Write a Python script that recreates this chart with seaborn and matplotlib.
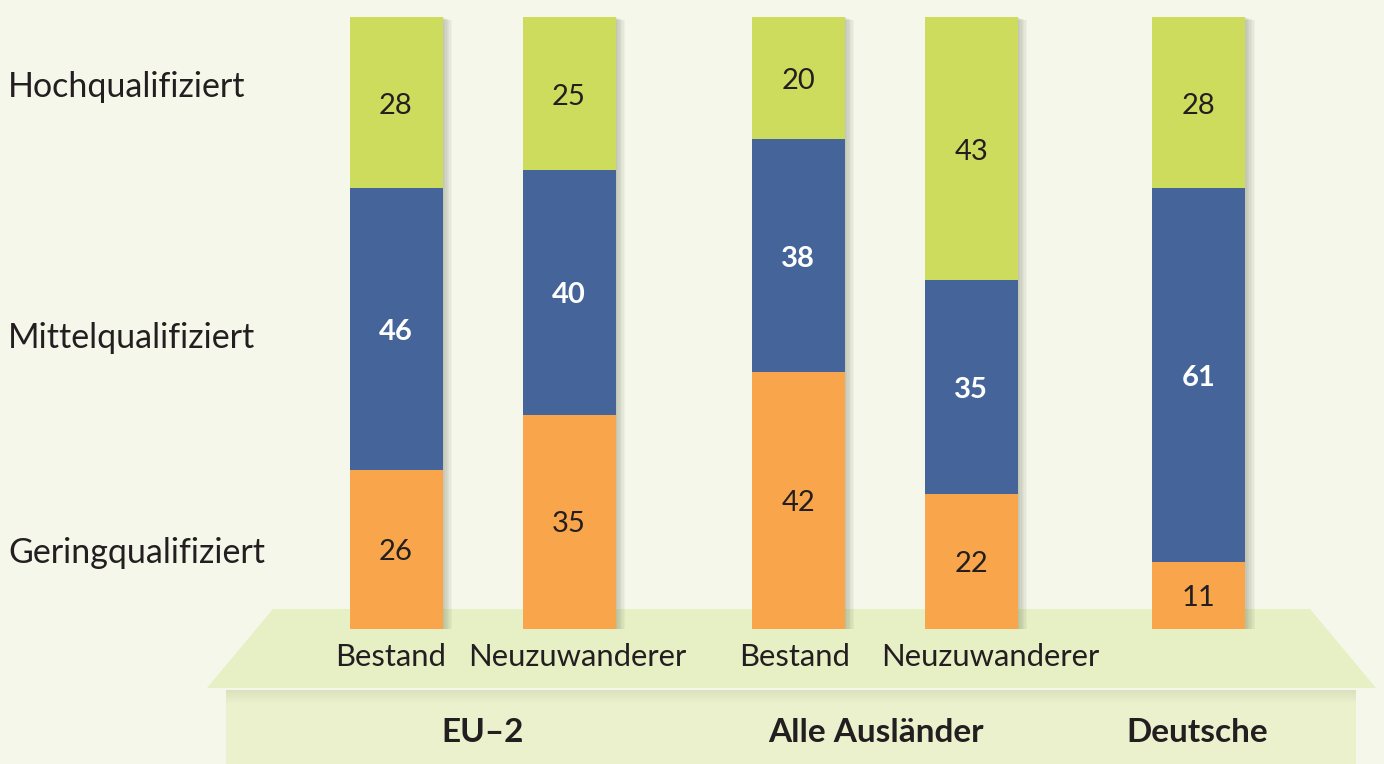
import matplotlib
matplotlib.use("Agg")
import matplotlib.pyplot as plt
import matplotlib.patheffects as pe
from matplotlib.patches import Polygon, Rectangle
import numpy as np
import pandas as pd
import seaborn as sns

# data
bars = ["Bestand", "Neuzuwanderer", "Bestand", "Neuzuwanderer", ""]
groups = ["EU\u20132", "EU\u20132", "Alle Ausländer", "Alle Ausländer", "Deutsche"]
gering = [26, 35, 42, 22, 11]
mittel = [46, 40, 38, 35, 61]
hoch = [28, 25, 20, 43, 28]
levels = ["Geringqualifiziert", "Mittelqualifiziert", "Hochqualifiziert"]

# layout
positions = [0.0, 1.0, 2.324, 3.324, 4.64]
label_shift = [-0.03, 0.05, -0.02, 0.11, 0.0]
level_y = [12.4, 47.5, 88.6]
group_x = {"EU\u20132": 0.5, "Alle Ausländer": 2.775, "Deutsche": 4.63}
W, H = 1384, 764
BG = "#f5f7ea"
C_LOW, C_MID, C_HIGH = "#f9a54b", "#45659a", "#cddc5d"
INK = "#231f20"

sns.set_theme(style="white")
plt.rcParams["font.family"] = ["Lato", "DejaVu Sans"]

fig = plt.figure(figsize=(W / 100, H / 100), dpi=100)
fig.patch.set_facecolor(BG)


def px(x, y):
    return (x / W, 1 - y / H)


# platform drawn in pixel space
base = Rectangle(px(226, 764), (1356 - 226) / W, (764 - 690) / H,
                 transform=fig.transFigure, facecolor="#ebf1cc", edgecolor="none", zorder=-3)
fig.patches.append(base)
for i, a in enumerate(np.linspace(0.16, 0.0, 14)):
    band = Rectangle(px(226, 690 + i + 1), (1356 - 226) / W, 1 / H,
                     transform=fig.transFigure, facecolor="#8a8f70", alpha=a, edgecolor="none", zorder=-2.5)
    fig.patches.append(band)
top = Polygon([px(273, 609), px(1310, 609), px(1376, 688), px(207, 688)],
              closed=True, transform=fig.transFigure, facecolor="#e7efc4", edgecolor="none", zorder=-2)
fig.patches.append(top)

unit = 173.0
x0 = 396.0
ax = fig.add_axes([0, (H - 629) / H, 1, (629 - 17) / H])
ax.set_facecolor("none")

df = pd.DataFrame({"pos": positions, "bar": bars, "group": groups, "shift": label_shift,
                   "gering": gering, "mittel": mittel, "hoch": hoch})
df["cum_mid"] = df["gering"] + df["mittel"]
df["cum_high"] = df["cum_mid"] + df["hoch"]

shadow = [pe.SimplePatchShadow(offset=(o, -o * 0.3), shadow_rgbFace="#6f735c", alpha=0.06) for o in range(1, 8)]
shadow.append(pe.Normal())
width = 93 / unit
ax.bar(df["pos"], df["cum_high"], width=width, color=C_HIGH, linewidth=0, zorder=1, path_effects=shadow)
sns.barplot(data=df, x="pos", y="cum_mid", native_scale=True, width=width, color=C_MID,
            saturation=1, ax=ax, zorder=2, errorbar=None, linewidth=0)
sns.barplot(data=df, x="pos", y="gering", native_scale=True, width=width, color=C_LOW,
            saturation=1, ax=ax, zorder=3, errorbar=None, linewidth=0)
ax.set_xlim(-x0 / unit, (W - x0) / unit)
ax.set_ylim(0, 100)
ax.axis("off")

for _, r in df.iterrows():
    ax.text(r["pos"], r["gering"] / 2 - 0.4, f"{r['gering']}", ha="center", va="center",
            fontsize=21, color=INK, zorder=5)
    ax.text(r["pos"], r["gering"] + r["mittel"] / 2 - 0.5, f"{r['mittel']}", ha="center", va="center",
            fontsize=21, color="white", fontweight="bold", zorder=5)
    ax.text(r["pos"], r["cum_mid"] + r["hoch"] / 2 - 0.5, f"{r['hoch']}", ha="center", va="center",
            fontsize=21, color=INK, zorder=5)
    if r["bar"]:
        ax.text(r["pos"] + r["shift"], -4.6, r["bar"], ha="center", va="center", fontsize=22.3,
                color=INK, clip_on=False)

for lab, yv in zip(levels, level_y):
    ax.text(8 / W, yv, lab, transform=ax.get_yaxis_transform(), ha="left", va="center",
            fontsize=24.5, color=INK)

for g in df["group"].unique():
    ax.text(group_x[g], -16.9, g, ha="center", va="center", fontsize=24,
            fontweight="bold", color=INK, clip_on=False)

fig.savefig("out.png", dpi=100, facecolor=BG)
